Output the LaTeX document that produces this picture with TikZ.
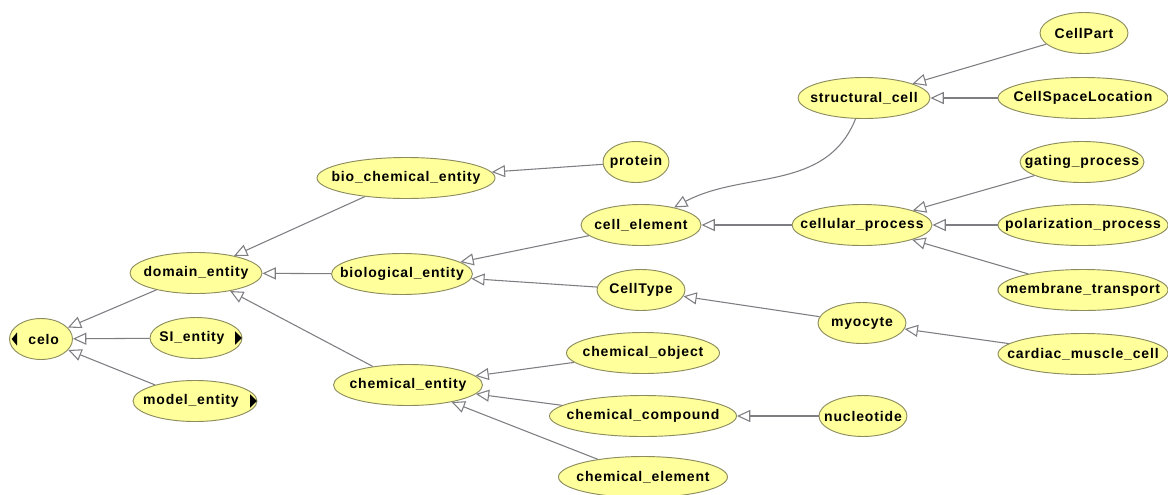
\documentclass[tikz,border=0pt]{standalone}
\usepackage{fontspec}
\setmainfont{Liberation Sans}[LetterSpace=6]
\definecolor{clsfill}{RGB}{255,255,155}
\definecolor{clsline}{RGB}{140,140,95}
\definecolor{edgegray}{RGB}{125,125,130}
\usetikzlibrary{arrows.meta, shapes.geometric}

\begin{document}
\begin{tikzpicture}[
      x=0.75pt, y=-0.75pt,
      cls/.style={ellipse, draw=clsline, fill=clsfill, inner xsep=-30pt,
                  inner ysep=0pt, minimum width=#1*0.75pt,
                  minimum height=41*0.75pt, line width=0.7pt,
                  font=\fontsize{10.5}{12}\selectfont\bfseries},
      isa/.style={-{Triangle[open, length=10pt, width=9pt]}, edgegray,
                  line width=0.8pt}
    ]
    \useasboundingbox (0,0) rectangle (1168,494);

    % root and first level
    \node[cls=63]  (celo)   at (41,339)  {\hspace*{4pt}celo};
    \node[cls=92]  (si)     at (196,338) {SI\_entity\hspace*{6pt}};
    \node[cls=124] (model)  at (195,401) {model\_entity\hspace*{6pt}};
    \node[cls=132] (domain) at (196,273) {domain\_entity};

    % domain entities
    \node[cls=178] (biochem) at (406,178) {bio\_chemical\_entity};
    \node[cls=141] (bio)     at (402,274) {biological\_entity};
    \node[cls=149] (chem)    at (408,385) {chemical\_entity};

    \node[cls=66]  (protein)  at (636,162) {protein};
    \node[cls=120] (cellel)   at (641,225) {cell\_element};
    \node[cls=88]  (celltype) at (641,290) {CellType};
    \node[cls=153] (chemobj)  at (643,353) {chemical\_object};
    \node[cls=187] (chemcomp) at (643,416) {chemical\_compound};
    \node[cls=169] (chemel)   at (643,477) {chemical\_element};

    \node[cls=132] (struct)  at (864,98)  {structural\_cell};
    \node[cls=140] (process) at (862,225) {cellular\_process};
    \node[cls=88]  (myocyte) at (862,323) {myocyte};
    \node[cls=88]  (nucl)    at (863,416) {nucleotide};

    \node[cls=88]  (cellpart)  at (1084,33)  {CellPart};
    \node[cls=170] (cellspace) at (1083,98)  {CellSpaceLocation};
    \node[cls=124] (gating)    at (1082,162) {gating\_process};
    \node[cls=170] (polar)     at (1083,225) {polarization\_process};
    \node[cls=170] (membrane)  at (1083,290) {membrane\_transport};
    \node[cls=170] (cardiac)   at (1083,354) {cardiac\_muscle\_cell};

    % collapsed markers
    \fill ([xshift=2pt]celo.west) -- ++(4pt,5pt) -- ++(0,-10pt) -- cycle;
    \fill ([xshift=-0.5pt]si.east) -- ++(-5pt,5pt) -- ++(0,-10pt) -- cycle;
    \fill ([xshift=-0.5pt]model.east) -- ++(-5pt,5pt) -- ++(0,-10pt) -- cycle;

    % is-a links
    \draw[isa] (si)      -- (celo);
    \draw[isa] (model)   -- (celo);
    \draw[isa] (domain)  -- (celo);
    \draw[isa] (biochem) -- (domain);
    \draw[isa] (bio)     -- (domain);
    \draw[isa] (chem)    -- (domain);
    \draw[isa] (protein) -- (biochem);
    \draw[isa] (cellel)  -- (bio);
    \draw[isa] (celltype) -- (bio);
    \draw[isa] (struct)  to[out=-112, in=28] (cellel);
    \draw[isa] (process) -- (cellel);
    \draw[isa] (cellpart)  -- (struct);
    \draw[isa] (cellspace) -- (struct);
    \draw[isa] (gating)    -- (process);
    \draw[isa] (polar)     -- (process);
    \draw[isa] (membrane)  -- (process);
    \draw[isa] (myocyte)   -- (celltype);
    \draw[isa] (cardiac)   -- (myocyte);
    \draw[isa] (chemobj)   -- (chem);
    \draw[isa] (chemcomp)  -- (chem);
    \draw[isa] (chemel)    -- (chem);
    \draw[isa] (nucl)      -- (chemcomp);
  \end{tikzpicture}
\end{document}
